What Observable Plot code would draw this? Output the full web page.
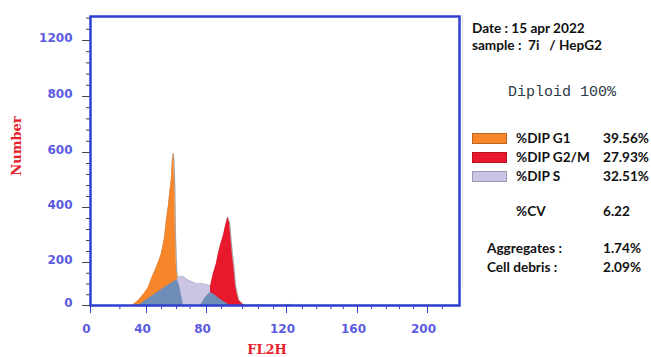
<!DOCTYPE html>
<html><head><meta charset="utf-8">
<script src="https://cdn.jsdelivr.net/npm/d3@7"></script>
<script src="https://cdn.jsdelivr.net/npm/@observablehq/plot@0.6"></script>
<style>
body{margin:0;background:#fff;}
#wrap{position:relative;width:651px;height:357px;overflow:hidden;}
#wrap svg{position:absolute;left:0;top:0;}
.t{position:absolute;white-space:pre;}
.side{font-family:Lato,sans-serif;font-weight:bold;font-size:13.6px;color:#111;line-height:15px;}
.ttl{font-family:"DejaVu Serif",serif;font-weight:bold;font-size:13px;color:#e8202a;line-height:15px;}
</style></head><body><div id="wrap"></div>
<script>
// axis ticks (label units)
const xTicks = [0, 40, 80, 120, 160, 200];
const xMinor = [21, 50, 60, 69, 87.5, 98, 106, 113.5, 129, 137, 145, 152, 168, 176.5, 184, 192, 208.5];
const yTicks = [0, 200, 400, 600, 800, 1200];
const yMinor = [50, 100, 150, 240, 280, 320, 360, 440, 480, 520, 560, 640, 680, 720, 760, 880, 960, 1040, 1120, 1280, 1360];

// G1 peak (orange)
const g1X = [29.8, 34.3, 37.9, 41.3, 44.0, 46.3, 48.7, 50.0, 52.0, 53.3, 54.7, 55.7, 56.7, 57.3, 57.8, 58.3, 58.9, 59.3, 60.0, 60.7];
const g1Y = [0, 23, 51, 84, 135, 172, 211, 233, 287, 353, 407, 462, 505, 571, 596, 564, 462, 298, 172, 126];
// S phase region (lavender)
const sX = [60.5, 62.0, 64.0, 66.7, 69.3, 72.7, 76.0, 79.3, 81.0, 82.0];
const sY = [121, 135, 135, 121, 112, 102, 100, 98, 93, 88];
// G2/M peak (red)
const g2X = [82.0, 83.5, 85.0, 86.0, 87.0, 88.5, 89.5, 90.6, 91.5, 92.3, 93.0, 93.7, 94.5, 95.3, 96.2, 97.9, 99.5];
const g2Y = [88, 149, 195, 233, 262, 298, 331, 364, 345, 280, 225, 177, 93, 56, 23, 7, 0];
// S-phase model under the G1 and G2 peaks (blue)
const m1X = [34.5, 39.3, 46.3, 53.0, 60.5, 62.0, 63.3, 64.7];
const m1Y = [0, 23, 56, 88, 121, 93, 47, 0];
const m2X = [76.0, 79.3, 82.0, 84.5, 87.0, 91.0, 92.0];
const m2Y = [0, 37, 62, 47, 28, 5, 0];
// debris tail
const tailX = [99.5, 105, 110, 115, 120, 122, 124, 130, 218];
const tailY = [0, 3, 2, 2, 3, 5, 1, 0, 0];

const legendLabels = ["%DIP G1", "%DIP G2/M", "%DIP S"];
const legendValues = ["39.56%", "27.93%", "32.51%"];
const legendColors = ["#f7852a", "#e8192c", "#cbc4e4"];

const pts = (xs, ys) => xs.map((x, i) => ({x, y: ys[i]}));
const g1 = pts(g1X, g1Y), sp = pts(sX, sY), g2 = pts(g2X, g2Y);
const m1 = pts(m1X, m1Y), m2 = pts(m2X, m2Y), tail = pts(tailX, tailY);
const total = [...g1, ...sp, ...g2, ...tail];

const chart = Plot.plot({
  width: 651, height: 357,
  marginLeft: 90, marginRight: 192, marginTop: 16, marginBottom: 52,
  style: {fontFamily: "DejaVu Sans", fontSize: "12px", fontWeight: "bold", background: "transparent"},
  x: {type: "linear", domain: xTicks, range: [90, 146, 206, 286, 357, 427], label: null},
  y: {type: "linear", domain: yTicks, range: [305, 262, 207, 152, 96, 40], label: null},
  marks: [
    Plot.lineY(total, {x: "x", y: "y", stroke: "#a6a6a6", strokeWidth: 1.3}),
    Plot.areaY(g1, {x: "x", y: "y", fill: legendColors[0]}),
    Plot.areaY(sp, {x: "x", y: "y", fill: legendColors[2]}),
    Plot.areaY(g2, {x: "x", y: "y", fill: legendColors[1]}),
    Plot.areaY(m1, {x: "x", y: "y", fill: "#6f8db7"}),
    Plot.areaY(m2, {x: "x", y: "y", fill: "#6f8db7"}),
    Plot.axisY({ticks: yMinor, tickSize: 4, tickFormat: () => "", stroke: "#444", label: null}),
    Plot.axisY({ticks: yTicks, tickSize: 8, tickFormat: () => "", stroke: "#444", label: null}),
    Plot.axisY({ticks: yTicks, tickSize: 0, tickPadding: 18, dy: -2, fill: "#5b5be0", tickFormat: d => String(d), label: null}),
    Plot.axisX({ticks: xMinor, tickSize: 4, tickFormat: () => "", stroke: "#3342d0", label: null}),
    Plot.axisX({ticks: xTicks, tickSize: 8, tickFormat: () => "", stroke: "#3342d0", label: null}),
    Plot.axisX({ticks: xTicks, tickSize: 0, tickPadding: 19, dx: -4, fill: "#5b5be0", tickFormat: d => String(d), label: null}),
    Plot.frame({stroke: "#2f3fcf", strokeWidth: 2.5})
  ]
});
const wrap = document.getElementById("wrap");
wrap.appendChild(chart);

function addText(txt, cls, left, top, extra) {
  const d = document.createElement("div");
  d.className = "t " + cls;
  d.textContent = txt;
  d.style.left = left + "px";
  d.style.top = top + "px";
  if (extra) Object.assign(d.style, extra);
  wrap.appendChild(d);
  return d;
}
// side divider
const line = document.createElement("div");
Object.assign(line.style, {position: "absolute", left: "462px", top: "12px", width: "1px", height: "275px", background: "#e4e4f6"});
wrap.appendChild(line);

addText("Number", "ttl", 16, 146, {transform: "translate(-50%,-50%) rotate(-90deg)"});
addText("FL2H", "ttl", 267, 341.5, {transform: "translateX(-50%)"});

addText("Date : 15 apr 2022", "side", 472, 20.5);
addText("sample :  7i   / HepG2", "side", 472, 37.5);
addText("Diploid 100%", "", 508, 83.5, {fontFamily: "'Liberation Mono',monospace", fontSize: "15px", lineHeight: "17px", color: "#2d3a45"});

const rowTops = [133, 152, 171];
legendLabels.forEach((lab, i) => {
  const sw = document.createElement("div");
  Object.assign(sw.style, {position: "absolute", left: "472px", top: rowTops[i] + "px", width: "33px", height: "9px", background: legendColors[i], border: "1px solid rgba(0,0,0,0.22)"});
  wrap.appendChild(sw);
  addText(lab, "side", 516, rowTops[i] - 2.5);
  addText(legendValues[i], "side", 603, rowTops[i] - 2.5);
});
addText("%CV", "side", 516, 203.5);
addText("6.22", "side", 603, 203.5);
addText("Aggregates :", "side", 487, 240.5);
addText("1.74%", "side", 603, 240.5);
addText("Cell debris :", "side", 487, 259.5);
addText("2.09%", "side", 603, 259.5);
</script></body></html>
